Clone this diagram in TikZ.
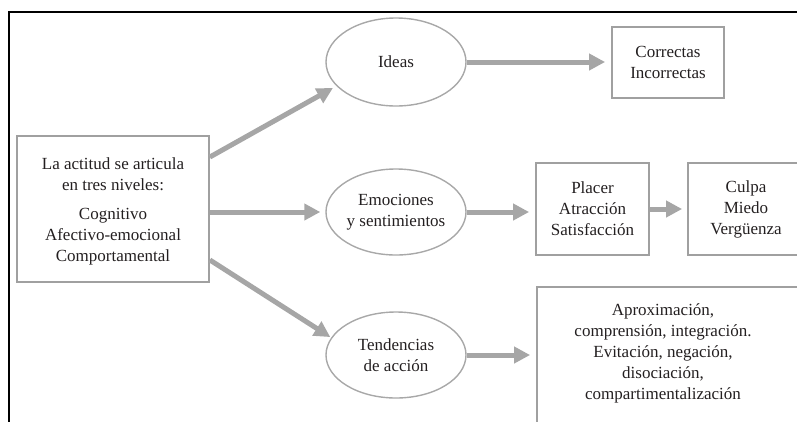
\documentclass[tikz,border=0pt]{standalone}
\usepackage{fontspec}
\setmainfont{Liberation Serif}
\usetikzlibrary{arrows.meta,shapes.geometric}
\definecolor{boxgray}{HTML}{A0A0A0}
\definecolor{ovalgray}{HTML}{A8A8A8}
\definecolor{arrowgray}{HTML}{A6A6A6}
\definecolor{ink}{HTML}{231F20}
\newcommand{\diagfont}{\fontsize{17}{21}\selectfont}
\begin{document}
\begin{tikzpicture}[x=1pt,y=-1pt,
  box/.style={draw=boxgray, line width=1.8pt, rectangle, align=center, inner sep=0pt, text=ink, font=\diagfont},
  oval/.style={draw=ovalgray, line width=1.4pt, ellipse, align=center, inner sep=0pt, minimum width=140pt, text=ink, font=\diagfont},
  txt/.style={align=center, inner sep=0pt, text=ink, font=\diagfont},
  conn/.style={draw=arrowgray, line width=5pt, -{Triangle[length=16pt,width=16pt]}},
  frame/.style={draw=black, line width=2.2pt}]
\useasboundingbox (0,0) rectangle (797,421);
\draw[frame] (9,430) -- (9,12) -- (805,12);

\node[box, minimum width=192pt, minimum height=146pt] (main) at (113,209) {};
\node[txt] (maintext) at (113,211)
  {La actitud se articula\\ en tres niveles:\\[8pt] Cognitivo\\ Afectivo-emocional\\ Comportamental};

\node[oval, minimum height=88pt] (ideas) at (396,62) {Ideas};
\node[oval, minimum height=86pt] (emo) at (396,212) {Emociones\\ y sentimientos};
\node[oval, minimum height=86pt] (tend) at (396,355) {Tendencias\\ de acción};

\node[box, minimum width=112pt, minimum height=71pt] (corr) at (668,62.5) {Correctas\\ Incorrectas};
\node[box, minimum width=113pt, minimum height=92pt] (placer) at (592.5,209) {Placer\\ Atracción\\ Satisfacción};
\node[box, minimum width=124pt, minimum height=92pt] (culpa) at (750,209) {};
\node[txt] (culpatext) at (746,209) {Culpa\\ Miedo\\ Vergüenza};
\node[box, minimum width=290pt, minimum height=160pt] (aprox) at (682,367) {};
\node[txt] (aproxtext) at (663,353) {Aproximación,\\ comprensión, integración.\\ Evitación, negación,\\ disociación,\\ compartimentalización};

\draw[conn, shorten >=4pt] ([yshift=52pt]main.east) -- (ideas.202);
\draw[conn, shorten >=5pt] (main.east |- emo.west) -- (emo.west);
\draw[conn, shorten >=1pt] ([yshift=-51pt]main.east) -- (tend.165);

\draw[conn, shorten >=6pt] (ideas.east) -- (ideas.east -| corr.west);
\draw[conn, shorten >=6pt] (emo.east) -- (emo.east -| placer.west);
\draw[conn, shorten >=5pt] (placer.east) -- (culpa.west);
\draw[conn, shorten >=6pt] (tend.east) -- (tend.east -| aprox.west);
\end{tikzpicture}
\end{document}
